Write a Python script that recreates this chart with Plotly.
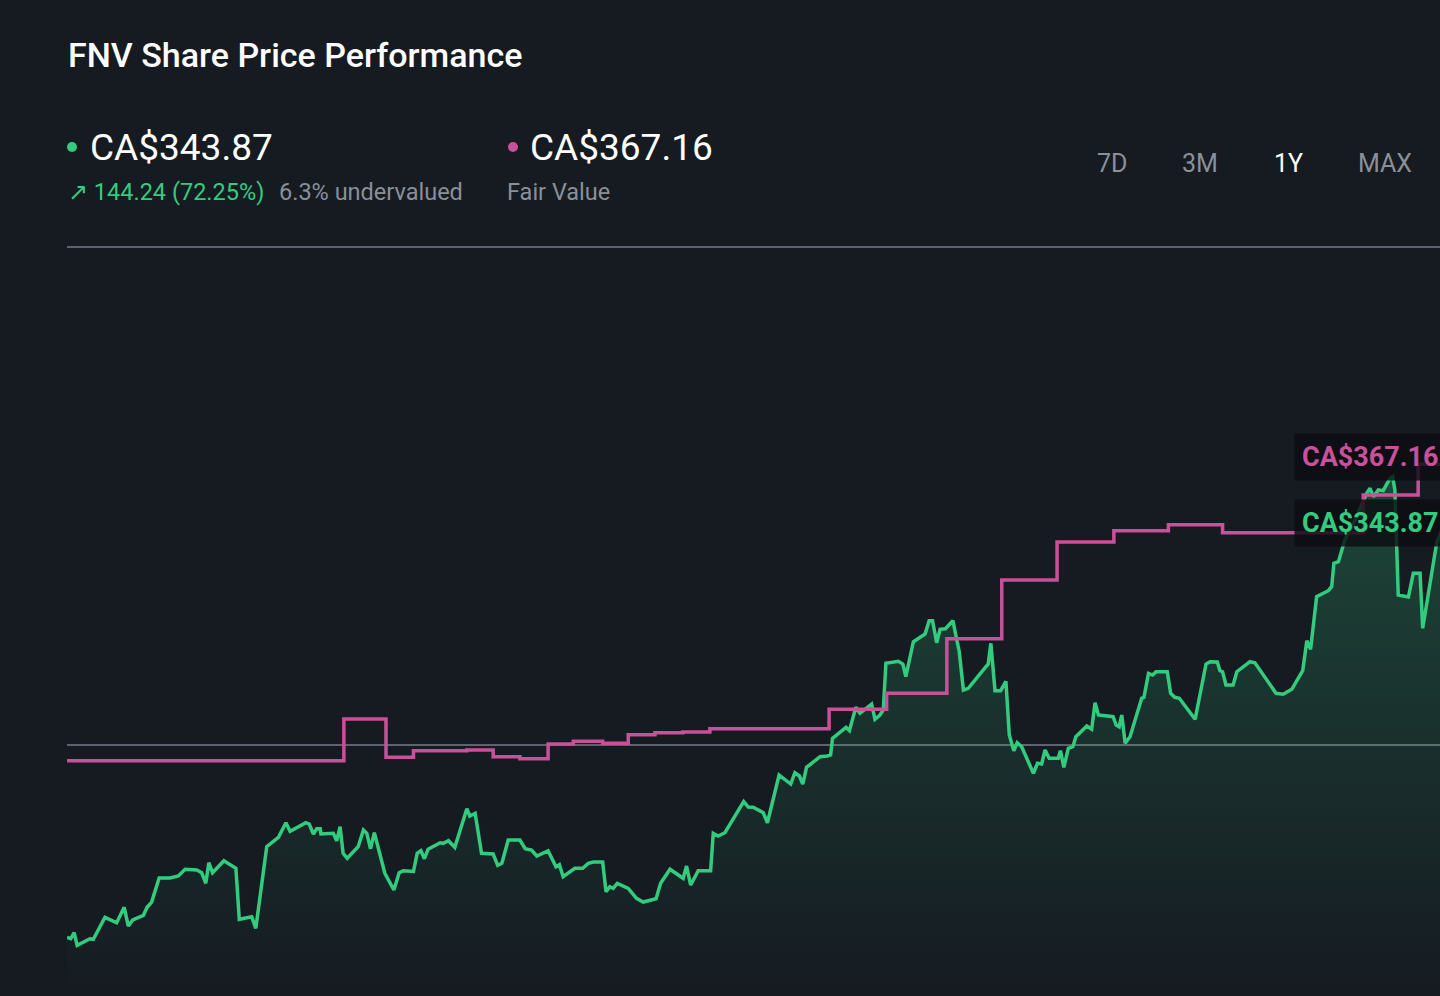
import plotly.graph_objects as go

# ---------------- data ----------------
PRICE_DAYS = [0, 1.0, 1.9, 2.7, 6.1, 7.0, 10.1, 13.2, 15.2, 16.3, 17.5, 20.3, 21.3, 22.5, 24.5, 27.4,
              29.6, 31.4, 34.5, 35.8, 36.9, 37.7, 38.7, 41.7, 44.9, 45.8, 49.1, 50.2, 53.1, 56.2, 58.2,
              59.3, 63.5, 64.4, 65.5, 66.4, 67.3, 67.5, 70.8, 71.7, 72.6, 73.4, 74.5, 77.4, 78.8, 79.7,
              80.7, 81.7, 84.5, 86.9, 88.3, 89.4, 92.1, 93.1, 94.1, 95.0, 96.0, 99.2, 100.0, 101.4,
              103.1, 106.3, 107.1, 108.5, 110.2, 113.3, 114.5, 115.6, 117.3, 120.4, 121.8, 123.5, 124.9,
              127.9, 130.0, 130.9, 131.9, 135.0, 137.1, 138.6, 139.9, 142.4, 143.3, 144.3, 145.2, 146.3,
              149.2, 151.4, 153.2, 156.6, 157.8, 160.3, 163.8, 164.7, 165.8, 167.8, 171.1, 171.8, 173.1,
              174.9, 179.9, 181.1, 182.4, 185.1, 186.2, 189.3, 192.4, 193.5, 194.7, 195.6, 196.6, 200.2,
              202.1, 203.0, 203.5, 207.1, 208.0, 209.7, 210.8, 213.9, 214.8, 216.1, 217.0, 217.7, 221.0,
              222.2, 223.0, 225.0, 228.1, 229.2, 230.1, 231.2, 232.1, 233.5, 235.5, 237.2, 238.3, 239.6,
              244.3, 244.9, 245.6, 246.7, 248.2, 249.6, 250.5, 251.7, 252.6, 253.8, 256.9, 258.0, 259.1,
              260.0, 261.1, 263.5, 264.1, 265.0, 266.2, 267.4, 268.2, 271.1, 272.4, 273.3, 274.2, 278.1,
              278.9, 279.7, 280.4, 281.3, 282.6, 285.7, 286.3, 287.5, 288.6, 289.5, 292.5, 293.4, 294.5,
              295.7, 299.9, 302.8, 303.9, 305.8, 306.5, 307.2, 308.1, 310.0, 311.0, 314.5, 315.8, 321.4,
              323.3, 325.6, 328.5, 329.6, 330.6, 332.2, 335.3, 336.2, 336.8, 338.0, 339.7, 342.4, 345.5,
              346.4, 347.3, 348.6, 349.9, 351.7, 352.4, 353.0, 353.9, 356.6, 357.9, 359.7, 360.4, 364.1,
              365.5]
PRICE_VALUES = [199.63, 199.19, 201.31, 196.85, 199.19, 198.98, 206.77, 204.85, 210.31, 203.69, 205.81,
                207.47, 210.31, 212.18, 220.68, 220.68, 221.39, 223.76, 223.51, 222.55, 218.80, 226.09,
                222.55, 226.80, 224.11, 206.06, 206.98, 202.87, 231.76, 235.09, 240.25, 237.21, 240.25,
                239.79, 236.25, 238.13, 238.13, 236.25, 236.50, 233.88, 238.84, 229.42, 227.65, 231.76,
                237.67, 236.50, 231.05, 236.71, 222.34, 216.43, 222.55, 223.26, 222.98, 229.42, 230.34,
                227.51, 230.84, 233.17, 232.96, 233.88, 231.55, 245.21, 242.63, 243.58, 229.42, 229.17,
                225.17, 225.88, 234.13, 234.13, 231.05, 230.59, 228.47, 230.34, 224.68, 225.39, 221.14,
                224.11, 224.11, 225.88, 226.34, 226.34, 215.83, 217.60, 217.03, 218.80, 217.03, 213.49,
                212.18, 213.35, 218.80, 223.76, 220.57, 224.93, 218.20, 223.26, 223.26, 236.50, 235.55,
                236.71, 247.76, 245.81, 245.71, 243.79, 240.25, 257.14, 253.95, 257.95, 256.79, 253.95,
                259.87, 263.62, 263.87, 264.22, 270.13, 274.03, 272.82, 281.11, 278.98, 282.27, 276.86,
                278.38, 280.15, 296.68, 297.39, 296.43, 291.94, 304.33, 307.05, 311.76, 311.76, 303.97,
                308.72, 308.93, 311.76, 300.79, 287.23, 287.83, 295.48, 296.43, 303.76, 286.98, 286.98,
                290.31, 271.30, 265.74, 268.57, 267.16, 257.74, 261.28, 261.03, 266.00, 263.05, 263.05,
                265.74, 259.87, 266.59, 267.16, 270.70, 274.49, 273.32, 282.73, 278.38, 277.78, 274.84,
                274.24, 278.38, 268.36, 270.70, 284.29, 284.65, 293.14, 292.54, 293.71, 293.71, 286.06,
                284.65, 284.29, 276.86, 296.43, 297.25, 297.14, 294.06, 293.71, 289.00, 289.00, 293.71,
                297.25, 296.89, 286.06, 285.71, 287.48, 294.06, 304.68, 301.64, 320.26, 322.38, 323.80,
                332.08, 332.65, 340.33, 347.41, 356.86, 358.63, 355.66, 358.03, 357.78, 362.17, 362.74,
                358.03, 320.86, 320.15, 328.54, 328.54, 309.07, 339.16, 343.87]

FAIR_DAYS = [0, 73.6, 84.8, 92.1, 106.3, 113.3, 120.4, 127.9, 134.6, 142.4, 149.2, 156.3, 163.7,
             170.9, 202.6, 217.9, 233.9, 248.5, 263.2, 278.3, 292.8, 307.2, 344.6, 359.2, 366]
FAIR_VALUES = [262.20, 276.96, 263.41, 265.74, 265.99, 263.62, 262.91, 268.11, 269.07, 268.36, 271.41,
               272.11, 272.36, 273.53, 280.40, 286.06, 305.39, 326.17, 339.62, 343.62, 345.75, 342.91,
               356.26, 367.16, 367.16]

GRID_VALUES = [267.76, 444.05]
RANGE_BUTTONS = ["7D", "3M", "1Y", "MAX"]
ACTIVE_BUTTON = "1Y"

LAST_PRICE = PRICE_VALUES[-1]
FAIR_VALUE = FAIR_VALUES[-1]
CHANGE = 144.24
CHANGE_PCT = 72.25
UNDERVALUED_PCT = 6.3

# ---------------- style ----------------
BG = "#161b22"
GREEN = "#33cc7f"
PINK = "#c9519a"
GRID = "#5d646d"
GREY = "#8a9098"
FONT = "Roboto"

fig = go.Figure()

fig.add_trace(go.Scatter(
    x=PRICE_DAYS, y=PRICE_VALUES, mode="lines",
    line=dict(color=GREEN, width=3.5),
    fill="tozeroy",
    fillgradient=dict(type="vertical",
                      colorscale=[[0, "rgba(51,204,127,0.0)"], [1, "rgba(51,204,127,0.24)"]],
                      start=180, stop=362),
    hoverinfo="skip", showlegend=False,
))
fig.add_trace(go.Scatter(
    x=FAIR_DAYS, y=FAIR_VALUES, mode="lines", line_shape="hv",
    line=dict(color=PINK, width=3.5),
    hoverinfo="skip", showlegend=False,
))

W, H = 1440, 996
ML, MT = 67, 200
PW, PH = W - ML, H - MT


def px(xp):
    return (xp - ML) / PW


def py(yp):
    return (H - yp) / PH


ann = []
ann.append(dict(text="FNV Share Price Performance", x=px(66), y=py(55), xanchor="left", yanchor="middle",
                font=dict(family=FONT, size=34, color="#ffffff", weight=500)))
ann.append(dict(text=f"CA${LAST_PRICE:.2f}", x=px(88), y=py(147), xanchor="left", yanchor="middle",
                font=dict(family=FONT, size=37, color="#ffffff")))
ann.append(dict(text=f"CA${FAIR_VALUE:.2f}", x=px(528), y=py(147), xanchor="left", yanchor="middle",
                font=dict(family=FONT, size=37, color="#ffffff")))
ann.append(dict(text=f"↗ {CHANGE:.2f} ({CHANGE_PCT:.2f}%)", x=px(66), y=py(192), xanchor="left",
                yanchor="middle", font=dict(family=FONT, size=23.5, color=GREEN)))
ann.append(dict(text=f"{UNDERVALUED_PCT}% undervalued", x=px(277), y=py(192), xanchor="left",
                yanchor="middle", font=dict(family=FONT, size=23.5, color=GREY)))
ann.append(dict(text="Fair Value", x=px(505), y=py(192), xanchor="left", yanchor="middle",
                font=dict(family=FONT, size=23.5, color=GREY)))
for lbl, cx in zip(RANGE_BUTTONS, [1112, 1200, 1288, 1385]):
    ann.append(dict(text=lbl, x=px(cx), y=py(164), xanchor="center", yanchor="middle",
                    font=dict(family=FONT, size=25, color="#ffffff" if lbl == ACTIVE_BUTTON else GREY)))

# end-value labels
ann.append(dict(text=f"CA${FAIR_VALUE:.2f}", xref="paper", x=px(1294), yref="y", y=FAIR_VALUE,
                yshift=7, xanchor="left", yanchor="middle", bgcolor="rgba(12,14,18,0.82)",
                borderpad=7, font=dict(family=FONT, size=27, color=PINK, weight=700)))
ann.append(dict(text=f"CA${LAST_PRICE:.2f}", xref="paper", x=px(1294), yref="y", y=LAST_PRICE,
                yshift=7, xanchor="left", yanchor="middle", bgcolor="rgba(12,14,18,0.82)",
                borderpad=7, font=dict(family=FONT, size=27, color=GREEN, weight=700)))

for a in ann:
    a.setdefault("xref", "paper")
    a.setdefault("yref", "paper")
    a["showarrow"] = False

shapes = []
for col, cx in [(GREEN, 72), (PINK, 513)]:
    shapes.append(dict(type="circle", xref="paper", yref="paper", xsizemode="pixel", ysizemode="pixel",
                       xanchor=px(cx), yanchor=py(147), x0=-5, x1=5, y0=-5, y1=5,
                       fillcolor=col, line=dict(width=0)))

fig.update_layout(
    width=W, height=H,
    margin=dict(l=ML, r=0, t=MT, b=0, pad=0),
    paper_bgcolor=BG, plot_bgcolor=BG,
    xaxis=dict(range=[0, 365.0], visible=False, showgrid=False, zeroline=False, fixedrange=True),
    yaxis=dict(range=[178.91, 460.69], tickvals=GRID_VALUES, showticklabels=False, ticks="",
               showgrid=True, gridcolor=GRID, gridwidth=2, zeroline=False, showline=False,
               fixedrange=True),
    annotations=ann, shapes=shapes,
    hovermode=False, showlegend=False,
    font=dict(family=FONT),
)

fig.write_html("out.html", config={"displayModeBar": False, "staticPlot": True},
               post_script="document.body.style.margin='0';document.body.style.background='#161b22';"
                           "document.body.style.overflow='hidden';")
